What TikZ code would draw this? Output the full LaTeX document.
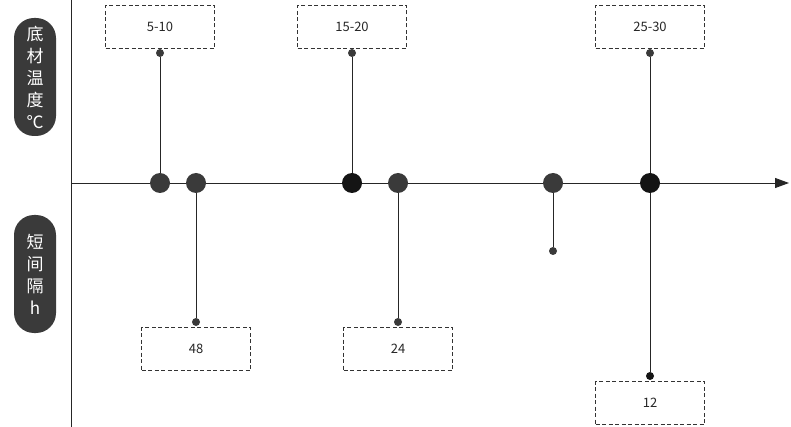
\documentclass[tikz,border=0pt]{standalone}
\usepackage{fontspec}
\setmainfont{Noto Sans CJK SC}
\definecolor{dotgray}{HTML}{3A3A3A}
\definecolor{dotblack}{HTML}{141414}
\usetikzlibrary{arrows.meta}

\begin{document}
\begin{tikzpicture}[x=1pt,y=-1pt,
  pill/.style={fill=dotgray,text=white,rounded corners=20pt,minimum width=42pt,minimum height=118pt,align=center,inner sep=0pt,font=\fontsize{17}{22}\selectfont},
  valbox/.style={draw=black!80,dash pattern=on 4pt off 2.5pt,minimum width=109pt,minimum height=43pt,font=\fontsize{13}{15}\selectfont,text=black!85},
  bigdot/.style={circle,fill=dotgray,minimum size=20pt,inner sep=0pt},
  tip/.style={circle,fill=dotgray,minimum size=8pt,inner sep=0pt},
  stem/.style={draw=black!85,line width=0.9pt}]
  \useasboundingbox (0,0) rectangle (791,427);
  % axes
  \coordinate (ytop) at (71,0);
  \coordinate (ybot) at (71,427);
  \coordinate (xorg) at (71,183);
  \coordinate (xend) at (789,183);
  \draw[stem] (ytop) -- (ybot);
  \draw[stem,-{Triangle[length=14pt,width=10pt]}] (xorg) -- (xend);
  % side labels
  \node[pill] (temp) at (35,77) {底\\材\\温\\度\\℃};
  \node[pill] (gap) at (35,274) {短\\间\\隔\\h};
  % upper values
  \node[valbox] (v510) at (160,27) {5-10};
  \node[valbox] (v1520) at (352,27) {15-20};
  \node[valbox] (v2530) at (650,27) {25-30};
  \node[tip] (t510) at (160,53) {};
  \node[tip] (t1520) at (352,53) {};
  \node[tip] (t2530) at (650,53) {};
  % lower values
  \node[valbox] (v48) at (196,349) {48};
  \node[valbox] (v24) at (398,349) {24};
  \node[valbox] (v12) at (650,403) {12};
  \node[tip] (t48) at (196,322) {};
  \node[tip] (t24) at (398,322) {};
  \node[tip] (tx) at (553,251) {};
  \node[tip,fill=dotblack] (t12) at (650,376) {};
  % points on the axis
  \node[bigdot] (a1) at (160,183) {};
  \node[bigdot] (a2) at (196,183) {};
  \node[bigdot,fill=dotblack] (a3) at (352,183) {};
  \node[bigdot] (a4) at (398,183) {};
  \node[bigdot] (a5) at (553,183) {};
  \node[bigdot,fill=dotblack] (a6) at (650,183) {};
  \draw[stem] (t510) -- (a1);
  \draw[stem] (a2) -- (t48);
  \draw[stem] (t1520) -- (a3);
  \draw[stem] (a4) -- (t24);
  \draw[stem] (a5) -- (tx);
  \draw[stem] (t2530) -- (a6);
  \draw[stem] (a6) -- (t12);
\end{tikzpicture}
\end{document}
